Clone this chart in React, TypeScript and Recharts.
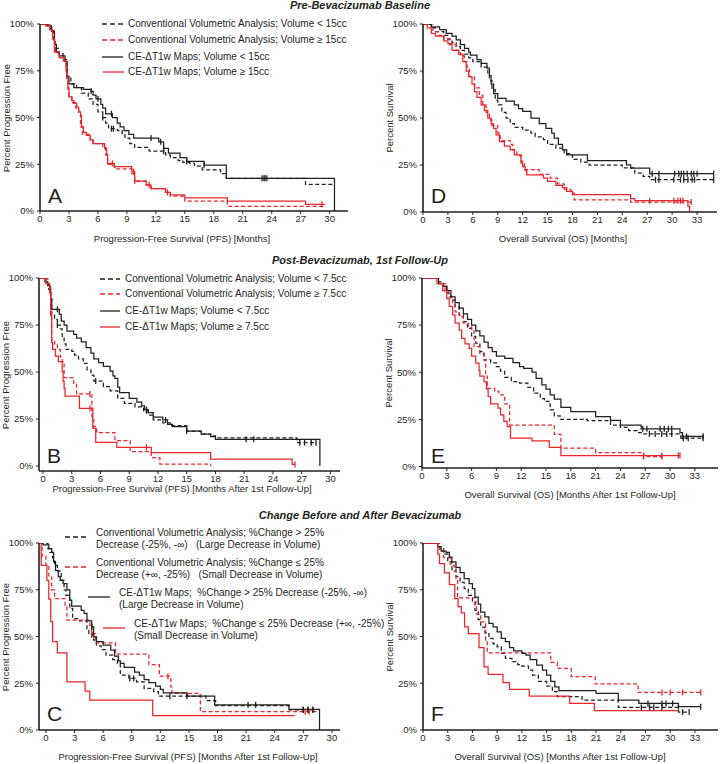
import React from "react";
import { LineChart, Line, XAxis, YAxis } from "recharts";

type Pt = [number, number];

const BLACK = "#231f20";
const RED = "#e8262b";
const FONT = "'Liberation Sans', Arial, sans-serif";

const pctTicks = [0, 25, 50, 75, 100];
const pfsTicks = [0, 3, 6, 9, 12, 15, 18, 21, 24, 27, 30];
const osTicks = [0, 3, 6, 9, 12, 15, 18, 21, 24, 27, 30, 33];

// ---- A: PFS, pre-bevacizumab baseline
const aConvLt: Pt[] = [[0,100],[1.1,97],[1.4,92],[1.6,87],[1.9,84],[2.4,81],[2.8,71],[3.2,68],[3.8,66],[4.3,63],[5.0,60],[5.5,57],[6.0,53],[6.5,50],[6.8,47],[7.1,44],[8.0,43],[8.5,41.5],[8.8,39],[9.3,36],[9.8,34],[11.3,32],[13.0,30],[13.5,28.5],[14.3,27],[14.8,26],[15.5,25.5],[16.0,24],[16.8,22],[18.7,20],[19.3,17.5],[27.5,14.3],[30.5,14.3]];
const aConvLtCens = [6.5, 7.4, 7.6, 12.8, 23.2, 23.5];
const aConvGe: Pt[] = [[0,100],[0.8,98],[1.2,96],[1.4,91],[1.6,85],[2.0,82],[2.5,80],[2.7,76],[2.8,71],[2.9,65],[3.0,61],[3.3,58],[3.7,55],[4.0,52],[4.2,45],[4.4,41],[5.2,38],[5.5,36],[6.5,34],[6.8,30],[7.0,25],[7.7,22.5],[9.5,20],[9.8,16],[11.0,14],[11.5,12],[13.0,10],[13.5,8],[15.0,5.3],[19.4,2.5],[29.5,2.5]];
const aConvGeCens = [9.8, 13.2];
const aMapLt: Pt[] = [[0,100],[0.7,99],[1.2,96],[1.5,89],[1.7,85],[2.0,83],[2.6,80],[2.8,72],[3.0,68],[3.5,66],[4.5,65],[5.3,64],[5.5,62],[5.8,60],[6.3,57],[6.5,55],[6.8,52],[7.5,50],[8.0,47],[8.3,45],[8.7,43],[9.2,41],[9.7,39],[12.3,37],[12.8,33.5],[13.3,31],[14.5,28.5],[15.2,26.5],[17.0,24.5],[19.3,17.5],[30.5,17.5],[30.5,0]];
const aMapLtCens = [5.3, 6.0, 7.4, 11.5, 12.5, 12.8, 15.2, 17.0, 23.0, 23.3];
const aMapGe: Pt[] = [[0,100],[0.6,99],[1.0,97],[1.3,92],[1.5,85],[2.0,82],[2.5,80],[2.7,75],[2.8,71],[2.9,66],[3.0,61],[3.3,59],[3.5,57.5],[3.8,55.5],[4.0,53],[4.2,51],[4.3,45],[4.5,42],[4.8,40.5],[5.2,38],[5.5,36],[6.7,33.5],[6.9,30],[7.0,25.5],[7.7,23.7],[9.5,21],[9.8,16],[11.0,14],[11.5,12],[13.0,10],[13.5,8.6],[15.0,7],[19.4,5.3],[27.5,3.6],[29.5,3.6]];
const aMapGeCens = [7.5, 9.7, 11.3, 29.2];

// ---- D: OS, pre-bevacizumab baseline
const dConvLt: Pt[] = [[0,100],[1.0,98],[1.5,96],[2.5,94],[3.0,92],[3.5,90],[4.0,88],[4.5,86],[5.0,84],[5.5,82],[6.0,80],[7.0,77],[7.8,74],[8.0,70],[8.3,65],[8.7,59.5],[9.0,57],[9.5,53],[10.0,50],[10.5,47],[11.0,45],[12.0,43.5],[13.0,42],[13.5,40],[14.5,38.5],[15.0,36],[16.0,34],[17.0,31],[18.0,28],[19.0,26.5],[20.0,25],[24.0,23.5],[25.5,20.7],[26.5,19],[27.3,17.2],[35.0,17.2]];
const dConvLtCens = [28.0, 28.4, 30.2, 31.0, 31.4, 31.9, 32.4, 32.7, 35];
const dConvGe: Pt[] = [[0,100],[1.2,96],[1.8,94],[2.5,92],[3.2,89],[4.0,86],[4.5,83],[5.0,80],[5.3,77],[5.6,72],[6.2,66],[6.8,62],[7.2,57],[7.6,53],[8.0,49],[8.3,46],[9.0,42],[9.3,38],[10.5,36],[10.8,33],[11.3,30],[11.8,26],[12.2,22.5],[14.0,20],[15.3,18],[16.2,15],[17.0,12],[17.8,10],[18.2,6.5],[25.0,5.3],[32.3,5.3]];
const dConvGeCens = [32.3];
const dMapLt: Pt[] = [[0,100],[1.0,98.5],[2.0,97],[2.8,95],[3.5,93.5],[4.0,91.5],[4.5,89],[5.0,87],[5.5,85],[5.7,83.5],[6.5,81],[7.0,79],[7.7,76.5],[8.0,72.5],[8.2,68],[8.5,63],[9.0,60.5],[10.0,59],[11.0,57],[11.5,55],[12.0,53.5],[13.0,50],[14.0,47],[14.8,44.5],[15.5,42],[15.8,39.3],[16.3,36],[16.8,33],[17.3,30.4],[19.8,27.3],[24.5,25.1],[25.0,23.4],[27.3,20.4],[35.0,20.4]];
const dMapLtCens = [27.6, 28.4, 30.3, 30.8, 31.1, 31.4, 31.8, 32.3, 32.6, 33.0, 35];
const dMapGe: Pt[] = [[0,100],[0.5,98],[1.0,95],[1.5,93.5],[2.5,91],[3.0,89.5],[3.5,86],[4.3,84],[4.8,80],[5.2,75],[5.5,72],[5.9,68],[6.2,64],[6.5,61],[7.0,57],[7.4,54],[7.8,50],[8.2,47],[8.5,44.5],[8.8,41],[9.2,37.5],[9.8,35],[10.5,33],[11.0,30.4],[11.8,27],[12.0,24.2],[12.3,22],[12.5,19.8],[14.5,18],[15.0,16.3],[16.0,14.2],[16.8,13],[17.3,11],[18.0,9.2],[25.0,7.1],[25.5,6],[31.9,3],[32.1,0],[32.1,0]];
const dMapGeCens = [27.3, 30.2, 30.7, 31.0, 31.3];

// ---- B: PFS, post-bevacizumab 1st follow-up
const bConvLt: Pt[] = [[-0.4,100],[0.3,97],[0.6,94],[0.8,90],[0.9,80.3],[1.2,78],[1.5,75],[1.8,73],[2.0,69],[2.2,65],[2.4,62],[3.0,61],[3.3,59],[3.7,57],[4.2,54.6],[4.6,51],[5.0,48.4],[5.3,45.2],[6.3,42.2],[7.0,40],[7.8,36],[8.5,33.3],[9.6,31.5],[10.5,29.3],[11.0,27],[11.5,24.5],[12.5,23],[13.3,21.5],[15.0,18.5],[16.5,17],[17.5,16],[18.0,15],[26.5,12.4],[28.5,12.4]];
const bConvLtCens = [1.5, 5.5, 10.8, 26.8, 27.3, 28.0, 28.5];
const bConvGe: Pt[] = [[-0.4,100],[0.5,96],[0.8,90],[0.9,67],[1.2,65],[1.5,62],[1.8,58],[2.0,55.5],[2.2,47],[3.2,44],[3.5,38.3],[5.1,24.5],[5.3,21],[5.6,17.7],[7.5,13.5],[9.1,7.6],[11.3,4.4],[12.2,1],[17.5,1],[17.5,0]];
const bConvGeCens = [4.9];
const bMapLt: Pt[] = [[-0.4,100],[0.2,98],[0.5,96],[0.7,93],[0.8,88.6],[0.9,83.3],[1.7,80.7],[1.9,77],[2.2,75],[2.5,71.8],[3.2,70],[3.5,68],[4.0,66],[4.5,63],[5.0,60],[5.3,57],[5.8,55],[6.3,53],[7.0,50.4],[7.3,48],[7.5,46.6],[7.8,42],[8.0,39],[9.0,36],[9.8,34],[10.3,32],[10.6,30],[11.0,28.4],[11.5,26],[12.5,24.5],[13.0,22.2],[13.5,20.9],[15.0,18.6],[16.5,17],[17.5,15.6],[18.0,14.2],[28.9,14.2],[28.9,0]];
const bMapLtCens = [1.5, 10.8, 12.8, 15.0, 21.2, 22.0];
const bMapGe: Pt[] = [[-0.4,100],[0.3,97],[0.7,92],[0.8,80],[0.9,65.6],[1.0,62],[1.3,58.5],[1.6,55.5],[2.0,50.2],[2.1,45],[2.2,41.3],[2.3,37.2],[3.8,30.7],[5.2,20],[5.5,12.6],[7.7,9.9],[11.3,7.1],[17.5,3.7],[26.0,0.8],[26.3,0.8]];
const bMapGeCens = [4.9, 10.8, 26.3];

// ---- E: OS, post-bevacizumab 1st follow-up
const eConvLt: Pt[] = [[0,100],[2.0,98],[2.5,96],[3.0,92],[3.5,88.3],[4.0,84.8],[4.5,80.4],[5.0,76.8],[5.5,73.3],[6.0,69],[6.5,65.4],[7.0,61],[7.5,56.5],[8.3,55],[9.0,53],[9.5,50.4],[10.0,47.3],[10.8,45],[11.8,44.2],[12.8,42],[13.5,38.9],[14.3,36],[14.8,34.5],[15.5,30],[16.0,26.9],[16.7,25],[20.0,24.4],[22.8,22],[24.0,20.8],[25.0,19],[26.0,18],[26.8,17.3],[31.3,15],[34.0,15]];
const eConvLtCens = [27.5, 28.2, 29.0, 29.6, 30.2, 31.6, 32.2, 34.0];
const eConvGe: Pt[] = [[0,100],[2.0,97],[2.8,93],[3.2,90],[3.7,86],[4.0,82],[4.5,79.5],[5.0,76],[5.6,74],[6.0,72],[6.3,63.6],[7.0,60],[7.5,56.5],[7.7,48],[7.9,41.5],[8.8,40],[9.3,38],[10.0,33.2],[10.6,22],[16.0,17.1],[16.8,9.7],[21.0,7.4],[26.8,5.3],[29.0,5.3]];
const eConvGeCens = [26.8, 29.0];
const eMapLt: Pt[] = [[0,100],[2.0,97],[2.5,95.5],[3.0,93.3],[3.5,90],[4.0,87],[4.5,84],[5.0,81],[5.5,78],[6.0,75],[6.5,72],[7.0,69.3],[7.5,66],[8.0,63],[8.5,61],[9.0,58.6],[10.0,57.4],[11.0,55.1],[11.8,53],[12.3,52],[13.3,50],[13.8,46.8],[14.5,43.3],[15.0,41],[15.5,38],[16.0,35.7],[16.8,31.4],[18.0,29.1],[21.0,26.5],[22.8,24.5],[24.0,22],[26.5,20],[31.2,18],[31.5,16],[34.0,16]];
const eMapLtCens = [26.7, 27.2, 28.8, 29.3, 29.8, 30.2, 31.5, 32.0, 34.0];
const eMapGe: Pt[] = [[0,100],[1.8,97],[2.5,93.3],[3.0,89],[3.3,85],[3.7,80.4],[4.0,76],[4.5,72.4],[4.8,68],[5.2,65],[5.7,62.7],[6.0,58.6],[6.5,54.8],[6.9,51],[7.0,48],[7.5,45],[7.8,41],[8.0,37.1],[8.3,33.2],[9.2,31],[9.5,27.4],[9.9,23.9],[10.3,21.2],[10.7,15],[13.3,13.6],[15.4,10.2],[16.8,5.8],[31.2,5.8]];
const eMapGeCens = [26.8, 29.0, 31.0, 31.2];

// ---- C: PFS, change before/after bevacizumab
const cConvLg: Pt[] = [[-0.7,100],[0.2,97],[0.4,95],[0.7,92],[0.9,88],[1.2,85],[1.6,80],[1.9,75],[2.1,72],[2.5,65],[2.8,59.6],[3.5,58.4],[4.3,53.4],[4.5,51],[5.0,48],[5.3,45],[5.8,43],[6.3,40],[7.0,37.7],[7.5,35.2],[7.8,29.4],[8.7,27.6],[9.5,25.8],[10.3,22.2],[11.3,20.5],[11.8,18.1],[16.8,15.7],[17.8,13],[25.5,10.7],[28.2,10.7]];
const cConvLgCens = [4.8, 8.8, 9.2, 13.0, 27.0, 27.5, 28.0];
const cConvSm: Pt[] = [[-0.7,100],[-0.4,93],[0.0,88],[0.3,81.9],[0.6,75],[0.9,70.3],[2.0,66.2],[2.2,58.7],[4.6,56],[4.8,51.6],[5.2,46.6],[7.3,40.6],[10.8,35],[11.9,28.8],[13.1,23],[13.2,19.6],[16.2,9.8],[28.5,9.8]];
const cConvSmCens = [4.8, 12.8, 27.2, 27.6];
const cMapLg: Pt[] = [[-0.7,100],[-0.3,99],[0.3,97],[0.6,95],[0.8,90],[1.0,85.4],[1.3,82],[1.5,80],[1.8,78.3],[2.2,75],[2.5,69.4],[2.7,66.2],[3.7,64],[4.0,62.3],[4.3,58.4],[4.8,55.2],[5.0,49.8],[5.3,47.2],[6.0,45.4],[6.8,42.7],[7.2,39.5],[7.6,37],[7.8,35.6],[8.2,33.5],[9.3,31],[9.8,29.4],[10.3,27],[10.8,25.3],[11.5,23.5],[12.0,21.7],[12.3,19.9],[14.8,18.1],[17.7,13.5],[25.5,11],[28.7,11],[28.7,0]];
const cMapLgCens = [4.8, 14.8, 21.2, 22.0, 27.0, 27.5, 28.0];
const cMapSm: Pt[] = [[-0.7,100],[-0.5,88],[0.1,80],[0.3,70],[0.5,58],[0.7,47.2],[1.2,41.3],[2.2,25.8],[4.1,20.8],[4.6,16],[11.2,7.7],[26.1,7.7]];
const cMapSmCens: number[] = [];

// ---- F: OS, change before/after bevacizumab
const fConvLg: Pt[] = [[0,100],[2.0,97],[2.5,94],[3.0,90],[3.5,86],[4.0,82],[4.5,79],[5.0,75.6],[5.5,72],[6.0,68.5],[6.3,64],[6.7,59],[7.0,55],[7.5,52],[8.0,49],[8.5,46],[9.0,44.5],[9.5,41],[10.0,38.3],[10.8,36.5],[11.5,35],[12.0,34.2],[12.8,32],[13.3,29.4],[14.0,26],[15.0,23.5],[15.7,20.5],[16.3,17.8],[19.3,16],[23.7,12.1],[31.0,9.6],[32.3,9.6]];
const fConvLgCens = [26.5, 27.5, 28.0, 29.0, 31.5, 32.3];
const fConvSm: Pt[] = [[0,100],[2.0,96],[2.5,92.2],[3.3,88],[3.8,85],[4.0,80],[4.2,70.6],[6.4,66],[6.5,62],[7.0,57.8],[7.6,48],[7.8,41.3],[15.5,36.1],[16.3,32.9],[18.0,28.5],[20.9,24.6],[26.1,20.1],[33.7,20.1]];
const fConvSmCens = [29.0, 30.0, 31.5, 33.7];
const fMapLg: Pt[] = [[0,100],[1.8,98],[2.2,95.7],[2.8,95],[3.2,92.5],[3.5,89.9],[4.0,87],[4.5,84.2],[5.0,81],[5.6,78.3],[6.0,75.6],[6.3,71],[6.7,67.3],[7.0,63],[7.5,60.5],[8.0,57],[8.5,55.2],[9.0,52.5],[9.5,49],[10.0,47.2],[10.5,44],[11.0,42.3],[12.0,41],[12.5,40],[13.0,37.7],[13.8,34.7],[14.5,32],[15.0,29.4],[15.5,26],[16.0,23.1],[16.5,21],[21.0,19.6],[23.7,16],[26.2,14.2],[31.0,12.5],[33.7,12.5]];
const fMapLgCens = [27.3, 29.0, 29.5, 30.3, 31.0, 33.7];
const fMapSm: Pt[] = [[0,100],[1.8,94],[2.0,89],[2.6,84],[3.2,77.8],[3.85,70.3],[4.25,66],[4.65,62.6],[5.05,55.2],[5.5,51.6],[6.8,44],[7.4,33.8],[7.9,29.7],[9.7,25.3],[10.5,21.7],[12.9,18.1],[17.8,14.2],[20.8,10.3],[31.0,10.3]];
const fMapSmCens: number[] = [];

type Row = { t: number; s: number; c?: boolean };
type Series = { key: string; data: Row[]; color: string; dashed: boolean };

// value of the step curve at time t (last step at or before t)
const stepAt = (pts: Pt[], t: number) => {
  let v = pts[0][1];
  for (const [x, y] of pts) if (x <= t) v = y;
  return v;
};

const km = (pts: Pt[], cens: number[]): Row[] =>
  [
    ...pts.map(([t, s]) => ({ t, s })),
    ...cens.map((t) => ({ t, s: stepAt(pts, t), c: true })),
  ].sort((a, b) => a.t - b.t || Number(!!a.c) - Number(!!b.c));

const four = (cl: Row[], cg: Row[], ml: Row[], mg: Row[]): Series[] => [
  { key: "conv1", data: cl, color: BLACK, dashed: true },
  { key: "conv2", data: cg, color: RED, dashed: true },
  { key: "map1", data: ml, color: BLACK, dashed: false },
  { key: "map2", data: mg, color: RED, dashed: false },
];

const censorDot = (color: string) => (props: any) => {
  const { cx, cy, payload, index } = props;
  if (!payload?.c || cx == null || cy == null) return <g key={`n${index}`} />;
  return <line key={`c${index}`} x1={cx} x2={cx} y1={cy - 3} y2={cy + 3} stroke={color} strokeWidth={1.3} />;
};

const YW = 50;
const XH = 30;
const PAD = 6;
const LABEL_SIZE = 9.5;

type PanelProps = {
  plot: { left: number; top: number; width: number; height: number };
  xDomain: [number, number];
  yDomain: [number, number];
  xTicks: number[];
  xLabel: string;
  xLabelAt: [number, number];
  yLabel: string;
  letter: string;
  letterAt: [number, number];
  series: Series[];
};

function Panel(p: PanelProps) {
  const { plot } = p;
  const tickStyle = { fontSize: 9.5, fill: BLACK, fontFamily: FONT };
  return (
    <>
      <div style={{ position: "absolute", left: plot.left - YW, top: plot.top - PAD }}>
        <LineChart
          width={plot.width + YW + PAD}
          height={plot.height + PAD + XH}
          margin={{ top: PAD, right: PAD, left: 0, bottom: 0 }}
        >
          <XAxis
            type="number"
            dataKey="t"
            domain={p.xDomain}
            ticks={p.xTicks}
            interval={0}
            allowDataOverflow
            height={XH}
            tick={tickStyle}
            tickSize={3}
            tickMargin={1}
            axisLine={{ stroke: BLACK, strokeWidth: 1.6 }}
            tickLine={{ stroke: BLACK }}
          />
          <YAxis
            type="number"
            domain={p.yDomain}
            ticks={pctTicks}
            interval={0}
            allowDataOverflow
            width={YW}
            tickFormatter={(v) => `${v}%`}
            tick={tickStyle}
            tickSize={3}
            tickMargin={3}
            axisLine={{ stroke: BLACK, strokeWidth: 1.6 }}
            tickLine={{ stroke: BLACK }}
          />
          {p.series.map((s) => (
            <Line
              key={s.key}
              data={s.data}
              dataKey="s"
              type="stepAfter"
              stroke={s.color}
              strokeWidth={1.25}
              strokeDasharray={s.dashed ? "4 2.5" : undefined}
              dot={censorDot(s.color)}
              activeDot={false}
              isAnimationActive={false}
            />
          ))}
        </LineChart>
      </div>
      <div
        style={{
          position: "absolute",
          left: p.xLabelAt[0] - 200,
          top: p.xLabelAt[1] - 6,
          width: 400,
          textAlign: "center",
          fontSize: LABEL_SIZE,
          lineHeight: "12px",
          color: BLACK,
        }}
      >
        {p.xLabel}
      </div>
      <div
        style={{
          position: "absolute",
          left: plot.left - 33 - 100,
          top: plot.top + plot.height / 2 - 6,
          width: 200,
          textAlign: "center",
          fontSize: LABEL_SIZE,
          lineHeight: "12px",
          color: BLACK,
          transform: "rotate(-90deg)",
        }}
      >
        {p.yLabel}
      </div>
      <div
        style={{
          position: "absolute",
          left: p.letterAt[0],
          top: p.letterAt[1],
          fontSize: 21,
          lineHeight: "20px",
          color: BLACK,
        }}
      >
        {p.letter}
      </div>
    </>
  );
}

type LegendItem = { lx: number; lw: number; tx: number; y: number; color: string; dashed: boolean; lines: string[] };

function Legend({ items }: { items: LegendItem[] }) {
  return (
    <>
      {items.map((it, i) => (
        <React.Fragment key={i}>
          <svg style={{ position: "absolute", left: it.lx, top: it.y - 2 }} width={it.lw} height={4}>
            <line
              x1={0}
              x2={it.lw}
              y1={2}
              y2={2}
              stroke={it.color}
              strokeWidth={1.3}
              strokeDasharray={it.dashed ? "5 3" : undefined}
            />
          </svg>
          {it.lines.map((ln, j) => (
            <div
              key={j}
              style={{
                position: "absolute",
                left: it.tx,
                top: it.y - 6 + j * 12 - (it.lines.length > 1 ? 4 : 0),
                fontSize: 10,
                lineHeight: "12px",
                whiteSpace: "pre",
                color: BLACK,
              }}
            >
              {ln}
            </div>
          ))}
        </React.Fragment>
      ))}
    </>
  );
}

const legendA: LegendItem[] = [
  { lx: 102, lw: 21, tx: 128, y: 24, color: BLACK, dashed: true, lines: ["Conventional Volumetric Analysis; Volume < 15cc"] },
  { lx: 102, lw: 21, tx: 128, y: 40, color: RED, dashed: true, lines: ["Conventional Volumetric Analysis; Volume ≥ 15cc"] },
  { lx: 102, lw: 21, tx: 128, y: 57, color: BLACK, dashed: false, lines: ["CE-ΔT1w Maps; Volume < 15cc"] },
  { lx: 103, lw: 21, tx: 128, y: 72, color: RED, dashed: false, lines: ["CE-ΔT1w Maps; Volume ≥ 15cc"] },
];

const legendB: LegendItem[] = [
  { lx: 100, lw: 20, tx: 125, y: 279, color: BLACK, dashed: true, lines: ["Conventional Volumetric Analysis; Volume < 7.5cc"] },
  { lx: 100, lw: 20, tx: 125, y: 294, color: RED, dashed: true, lines: ["Conventional Volumetric Analysis; Volume ≥ 7.5cc"] },
  { lx: 100, lw: 20, tx: 125, y: 311, color: BLACK, dashed: false, lines: ["CE-ΔT1w Maps; Volume < 7.5cc"] },
  { lx: 100, lw: 20, tx: 125, y: 327, color: RED, dashed: false, lines: ["CE-ΔT1w Maps; Volume ≥ 7.5cc"] },
];

const legendC: LegendItem[] = [
  { lx: 65, lw: 22, tx: 96, y: 537, color: BLACK, dashed: true, lines: ["Conventional Volumetric Analysis; %Change > 25%", "Decrease (-25%, -∞)   (Large Decrease in Volume)"] },
  { lx: 65, lw: 22, tx: 96, y: 567, color: RED, dashed: true, lines: ["Conventional Volumetric Analysis; %Change ≤ 25%", "Decrease (+∞, -25%)   (Small Decrease in Volume)"] },
  { lx: 88, lw: 22, tx: 119, y: 597, color: BLACK, dashed: false, lines: ["CE-ΔT1w Maps;  %Change > 25% Decrease (-25%, -∞)", "(Large Decrease in Volume)"] },
  { lx: 103, lw: 22, tx: 134, y: 628, color: RED, dashed: false, lines: ["CE-ΔT1w Maps;  %Change ≤ 25% Decrease (+∞, -25%)", "(Small Decrease in Volume)"] },
];

const titleStyle = (top: number): React.CSSProperties => ({
  position: "absolute",
  left: 160,
  width: 400,
  top,
  textAlign: "center",
  fontSize: 11,
  lineHeight: "12px",
  fontWeight: "bold",
  fontStyle: "italic",
  color: BLACK,
});

export default function App() {
  return (
    <div
      style={{
        position: "absolute",
        left: 0,
        top: 0,
        width: 720,
        height: 764,
        background: "#fff",
        overflow: "hidden",
        fontFamily: FONT,
      }}
    >
      <div style={titleStyle(-1)}>Pre-Bevacizumab Baseline</div>
      <div style={titleStyle(254)}>Post-Bevacizumab, 1st Follow-Up</div>
      <div style={titleStyle(509)}>Change Before and After Bevacizumab</div>

      <Panel
        plot={{ left: 40, top: 24, width: 308, height: 187 }}
        xDomain={[0, 31.9]}
        yDomain={[0, 100]}
        xTicks={pfsTicks}
        xLabel="Progression-Free Survival (PFS) [Months]"
        xLabelAt={[182, 239]}
        yLabel="Percent Progression Free"
        letter="A"
        letterAt={[48, 186]}
        series={four(km(aConvLt, aConvLtCens), km(aConvGe, aConvGeCens), km(aMapLt, aMapLtCens), km(aMapGe, aMapGeCens))}
      />
      <Panel
        plot={{ left: 423, top: 24, width: 294, height: 188 }}
        xDomain={[0, 35.4]}
        yDomain={[0, 100]}
        xTicks={osTicks}
        xLabel="Overall Survival (OS) [Months]"
        xLabelAt={[563, 239]}
        yLabel="Percent Survival"
        letter="D"
        letterAt={[431, 186]}
        series={four(km(dConvLt, dConvLtCens), km(dConvGe, dConvGeCens), km(dMapLt, dMapLtCens), km(dMapGe, dMapGeCens))}
      />
      <Panel
        plot={{ left: 39, top: 278, width: 301, height: 193 }}
        xDomain={[-0.42, 31]}
        yDomain={[-2.66, 100]}
        xTicks={pfsTicks}
        xLabel="Progression-Free Survival (PFS) [Months After 1st Follow-Up]"
        xLabelAt={[182, 489]}
        yLabel="Percent Progression Free"
        letter="B"
        letterAt={[47, 446]}
        series={four(km(bConvLt, bConvLtCens), km(bConvGe, bConvGeCens), km(bMapLt, bMapLtCens), km(bMapGe, bMapGeCens))}
      />
      <Panel
        plot={{ left: 422, top: 278, width: 296, height: 190 }}
        xDomain={[0, 35.8]}
        yDomain={[-0.8, 100]}
        xTicks={osTicks}
        xLabel="Overall Survival (OS) [Months After 1st Follow-Up]"
        xLabelAt={[570, 495]}
        yLabel="Percent Survival"
        letter="E"
        letterAt={[431, 446]}
        series={four(km(eConvLt, eConvLtCens), km(eConvGe, eConvGeCens), km(eMapLt, eMapLtCens), km(eMapGe, eMapGeCens))}
      />
      <Panel
        plot={{ left: 39, top: 543, width: 301, height: 187 }}
        xDomain={[-0.73, 30.85]}
        yDomain={[0, 100]}
        xTicks={pfsTicks}
        xLabel="Progression-Free Survival (PFS) [Months After 1st Follow-Up]"
        xLabelAt={[188, 757]}
        yLabel="Percent Progression Free"
        letter="C"
        letterAt={[47, 704]}
        series={four(km(cConvLg, cConvLgCens), km(cConvSm, cConvSmCens), km(cMapLg, cMapLgCens), km(cMapSm, cMapSmCens))}
      />
      <Panel
        plot={{ left: 423, top: 543, width: 295, height: 187 }}
        xDomain={[0, 35.8]}
        yDomain={[0, 100]}
        xTicks={osTicks}
        xLabel="Overall Survival (OS) [Months After 1st Follow-Up]"
        xLabelAt={[560, 757]}
        yLabel="Percent Survival"
        letter="F"
        letterAt={[431, 704]}
        series={four(km(fConvLg, fConvLgCens), km(fConvSm, fConvSmCens), km(fMapLg, fMapLgCens), km(fMapSm, fMapSmCens))}
      />

      <Legend items={legendA} />
      <Legend items={legendB} />
      <Legend items={legendC} />
    </div>
  );
}
